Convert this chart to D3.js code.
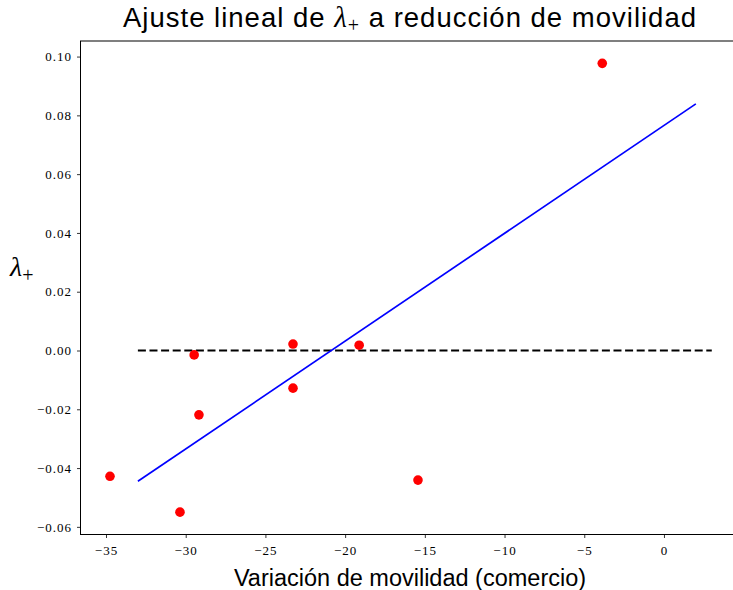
<!DOCTYPE html>
<html><head><meta charset="utf-8">
<script src="https://cdn.jsdelivr.net/npm/d3@7"></script>
<style>body{margin:0;background:#fff}svg{display:block}</style>
</head><body>
<script>
const mobility = [-34.75, -30.36, -29.47, -29.17, -23.27, -23.27, -19.12, -15.43, -3.87];
const lambdaPlus = [-0.0428, -0.055, -0.0015, -0.0219, 0.0022, -0.0128, 0.0018, -0.0441, 0.0977];
const fitX = [-33, 2];
const fitY = [-0.0445, 0.0839];
const zeroX = [-33, 3];
const xTicks = [-35, -30, -25, -20, -15, -10, -5, 0];
const yTicks = [-0.06, -0.04, -0.02, 0.00, 0.02, 0.04, 0.06, 0.08, 0.10];

const W = 733, H = 590;
const m = {left: 80.5, top: 41, right: 740, bottom: 534.5};
const svg = d3.select("body").append("svg").attr("width", W).attr("height", H);
const x = d3.scaleLinear().domain([-36.6, 4.77]).range([m.left, m.right]);
const y = d3.scaleLinear().domain([-0.0626, 0.1053]).range([m.bottom, m.top]);

const fmt = v => { const s = v.toFixed(2); return v < 0 ? "\u2212" + s.slice(1) : s; };
const fmtX = v => v < 0 ? "\u2212" + Math.abs(v) : String(v);
const serif = "'Liberation Serif', 'DejaVu Serif', serif";
const sans = "'Liberation Sans', Arial, sans-serif";

const gx = svg.append("g").attr("transform", `translate(0,${m.bottom})`)
  .call(d3.axisBottom(x).tickValues(xTicks).tickFormat(fmtX).tickSize(3.5).tickPadding(4));
const gy = svg.append("g").attr("transform", `translate(${m.left},0)`)
  .call(d3.axisLeft(y).tickValues(yTicks).tickFormat(fmt).tickSize(3.5).tickPadding(5));
[gx, gy].forEach(g => {
  g.select(".domain").remove();
  g.selectAll("line").attr("stroke", "#000").attr("stroke-width", 0.8);
  g.selectAll("text").attr("font-family", serif).attr("font-size", 13).attr("letter-spacing", 1).attr("fill", "#000");
});
gx.selectAll("text").attr("dy", "1.0em");

svg.append("rect").attr("x", m.left).attr("y", m.top)
  .attr("width", m.right - m.left).attr("height", m.bottom - m.top)
  .attr("fill", "none").attr("stroke", "#000").attr("stroke-width", 1);

const line = d3.line().x(d => x(d[0])).y(d => y(d[1]));
svg.append("path").datum(zeroX.map(v => [v, 0]))
  .attr("d", line).attr("stroke", "#000").attr("stroke-width", 1.8)
  .attr("stroke-dasharray", "8,3.6").attr("fill", "none");
svg.append("path").datum(fitX.map((v, i) => [v, fitY[i]]))
  .attr("d", line).attr("stroke", "#0000ff").attr("stroke-width", 1.7).attr("fill", "none");

svg.append("g").selectAll("circle").data(mobility.map((v, i) => [v, lambdaPlus[i]]))
  .join("circle").attr("cx", d => x(d[0])).attr("cy", d => y(d[1])).attr("r", 4.8).attr("fill", "#ff0000");

const title = svg.append("text").attr("x", 410).attr("y", 27).attr("text-anchor", "middle")
  .attr("font-family", sans).attr("font-size", 27.5).attr("fill", "#000");
title.append("tspan").text("Ajuste lineal de ");
title.append("tspan").attr("font-family", serif).attr("font-style", "italic").attr("font-size", 29).text("λ");
title.append("tspan").attr("font-family", serif).attr("font-size", 20).attr("dy", 5).text("+");
title.append("tspan").attr("dy", -5).text(" a reducción de movilidad");
const tl = title.node().getComputedTextLength();
const nChars = title.text().length;
if (tl < 574) title.attr("letter-spacing", (574 - tl) / nChars);

const xl = svg.append("text").attr("x", 410).attr("y", 586).attr("text-anchor", "middle")
  .attr("font-family", sans).attr("font-size", 23.5).attr("fill", "#000")
  .text("Variación de movilidad (comercio)");

const yl = svg.append("text").attr("x", 10).attr("y", 276)
  .attr("font-family", serif).attr("font-style", "italic").attr("font-size", 28).attr("fill", "#000");
yl.append("tspan").text("λ");
yl.append("tspan").attr("font-style", "normal").attr("font-size", 20).attr("dy", 6).text("+");
</script>
</body></html>
